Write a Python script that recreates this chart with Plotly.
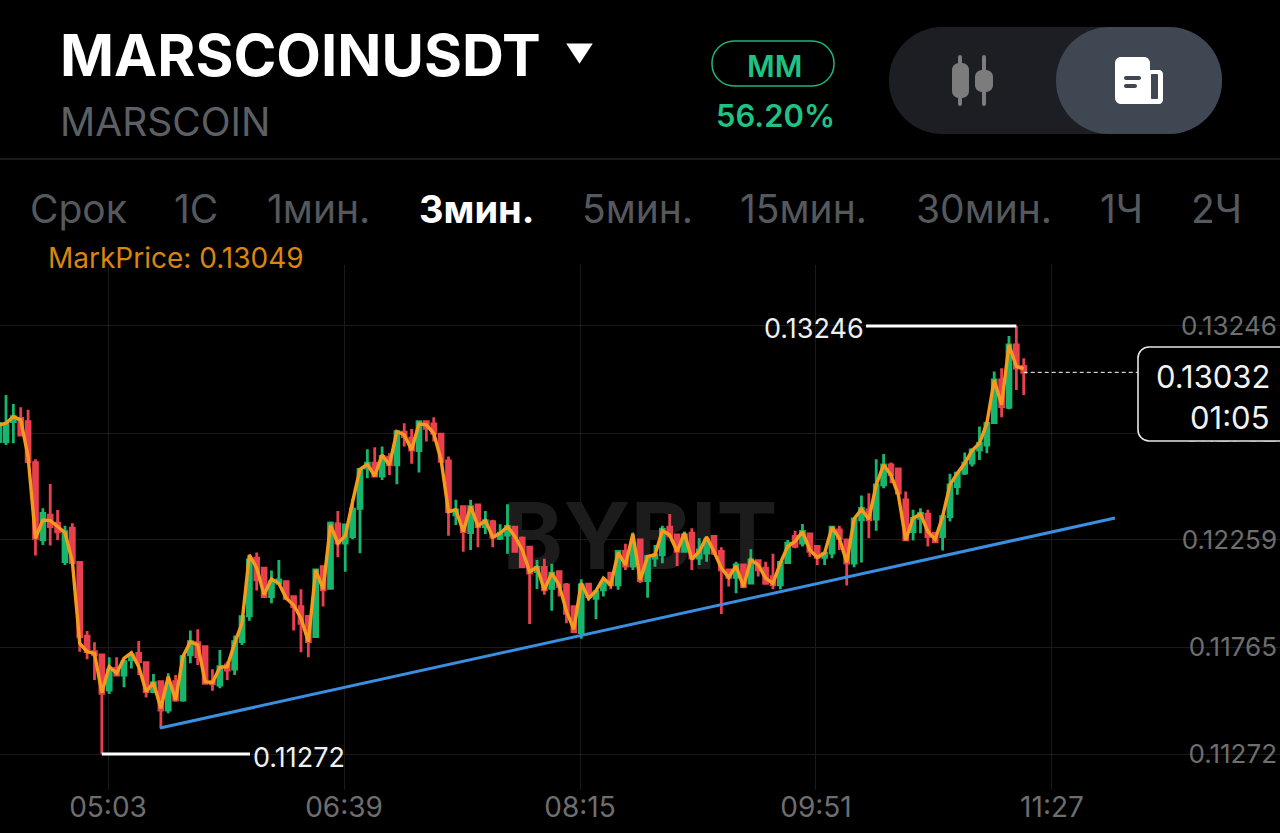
import pandas as pd
import plotly.graph_objects as go

opens = [12713,12713,12805,12820,12805,12616,12259,12374,12336,12159,12313,12155,11816,11744,11729,11567,11667,11636,11706,11736,
         11693,11560,11606,11475,11606,11521,11729,11786,11767,11606,11590,11683,11663,11790,11909,12175,12129,11998,12059,12067,
         11998,11952,11906,11813,12136,12036,12333,12244,12275,12405,12590,12613,12554,12641,12605,12756,12728,12671,12805,12794,
         12747,12624,12375,12413,12293,12421,12321,12344,12267,12282,12318,12267,12226,12113,12133,12036,12113,12052,11952,11832,
         12055,11990,12029,12106,12052,12206,12139,12259,12072,12175,12190,12318,12282,12206,12290,12175,12198,12275,12206,12121,
         12087,12144,12060,12164,12129,12090,12052,12155,12275,12244,12287,12229,12179,12198,12305,12259,12152,12352,12398,12355,
         12513,12605,12587,12444,12298,12359,12378,12290,12275,12367,12505,12567,12613,12674,12697,12800,12997,12871,13159,13059]
highs = [12836,12928,12886,12871,12859,12631,12405,12517,12397,12324,12336,12155,11839,11787,11729,11718,11718,11706,11744,11793,
         11698,11641,11610,11644,11636,11729,11841,11847,11770,11663,11752,11698,11818,11909,12190,12201,12129,12118,12167,12067,
         11998,12032,11906,12124,12136,12344,12393,12328,12448,12590,12677,12687,12690,12659,12764,12797,12771,12805,12810,12825,
         12747,12644,12444,12413,12444,12421,12393,12352,12332,12424,12318,12275,12226,12167,12172,12149,12113,12060,11955,12078,
         12060,12021,12087,12106,12206,12241,12293,12259,12190,12236,12324,12379,12282,12298,12313,12267,12275,12282,12226,12121,
         12159,12149,12216,12164,12159,12195,12159,12259,12301,12333,12287,12229,12198,12321,12325,12259,12359,12464,12475,12631,
         12656,12616,12587,12482,12398,12405,12398,12290,12367,12564,12570,12662,12682,12782,12805,13036,13051,13200,13246,13097]
lows = [12582,12697,12705,12743,12620,12187,12236,12233,12259,12144,12155,11744,11709,11613,11272,11549,11636,11580,11666,11636,
        11532,11552,11390,11460,11513,11513,11690,11683,11598,11564,11575,11613,11636,11775,11887,12026,11998,11967,12059,11983,
        11841,11741,11718,11813,11952,12032,12179,12113,12262,12198,12544,12551,12536,12559,12516,12690,12610,12570,12713,12713,
        12621,12278,12328,12205,12213,12225,12287,12225,12259,12195,12206,12136,11872,12033,12006,11933,11998,11875,11832,11803,
        11980,11893,11998,12032,12029,12121,12121,12060,11993,12136,12152,12278,12139,12201,12121,12144,12159,12190,11918,12044,
        12013,12036,12060,12090,12059,12032,12032,12152,12221,12229,12182,12144,12144,12175,12213,12049,12133,12155,12267,12302,
        12498,12521,12467,12259,12256,12290,12229,12244,12210,12344,12467,12559,12598,12628,12659,12797,12825,12862,12951,12928]
closes = [12797,12797,12828,12743,12620,12267,12382,12321,12297,12297,12155,11813,11744,11729,11552,11659,11636,11698,11729,11698,
          11560,11601,11475,11598,11521,11721,11790,11721,11598,11595,11675,11659,11790,11905,12167,12075,11998,12067,12075,11990,
          11952,11875,11790,12121,12029,12336,12244,12328,12401,12585,12613,12554,12644,12605,12759,12736,12674,12805,12774,12751,
          12621,12390,12398,12298,12413,12321,12348,12272,12290,12321,12206,12136,12106,12133,12029,12106,12044,11921,11837,12052,
          11998,12021,12063,12052,12206,12139,12244,12072,12183,12190,12309,12278,12206,12282,12175,12213,12259,12198,12121,12087,
          12144,12044,12167,12121,12059,12052,12155,12244,12229,12298,12206,12179,12198,12318,12267,12152,12356,12405,12352,12513,
          12605,12559,12475,12259,12359,12382,12275,12252,12367,12513,12567,12613,12674,12705,12797,12997,12874,13159,13051,13032]
mark_line = [12789,12797,12828,12813,12643,12267,12351,12348,12321,12293,12159,11782,11744,11736,11555,11675,11644,11713,11739,11675,
             11560,11601,11483,11629,11521,11721,11790,11775,11606,11601,11672,11675,11782,11875,12190,12130,12006,12079,12059,11990,
             11959,11898,11790,12121,12032,12328,12244,12278,12436,12585,12608,12554,12651,12605,12759,12744,12674,12794,12790,12751,
             12628,12390,12398,12298,12413,12324,12348,12272,12290,12321,12275,12213,12113,12133,12029,12106,12052,11929,11847,12060,
             11990,12024,12083,12052,12201,12144,12287,12075,12183,12190,12302,12282,12206,12290,12170,12206,12272,12206,12129,12087,
             12139,12044,12167,12144,12083,12059,12152,12229,12252,12298,12213,12179,12198,12318,12267,12155,12356,12401,12355,12513,
             12605,12559,12467,12259,12359,12378,12298,12262,12367,12513,12567,12613,12671,12705,12797,12997,12882,13159,13059,13049]
tick_5 = 100000.0
opens = [v / tick_5 for v in opens]
highs = [v / tick_5 for v in highs]
lows = [v / tick_5 for v in lows]
closes = [v / tick_5 for v in closes]
mark_line = [v / tick_5 for v in mark_line]

times = pd.date_range("2024-01-01 04:18:30", periods=len(opens), freq="3min")

day = "2024-01-01 "
x_ticks = [day + "05:03", day + "06:39", day + "08:15", day + "09:51", day + "11:27"]
x_labels = ["05:03", "06:39", "08:15", "09:51", "11:27"]
y_ticks = [0.13246, 0.12752, 0.12259, 0.11765, 0.11272]
y_labels = ["0.13246", "0.12752", "0.12259", "0.11765", "0.11272"]

trend_x = [day + "05:24:09", day + "11:52:39"]
trend_y = [0.11392, 0.12360]
high_x = [day + "10:11:20", day + "11:12:30"]
high_y = [0.13246, 0.13246]
low_x = [day + "05:00:30", day + "06:00:46"]
low_y = [0.11272, 0.11272]
last_x = [day + "11:15:30", day + "12:02:00"]
last_y = [0.13032, 0.13032]

menu = ["Срок", "1С", "1мин.", "3мин.", "5мин.", "15мин.", "30мин.", "1Ч", "2Ч"]
menu_centers = [78, 196, 318, 476, 637, 803, 984, 1121, 1216]

W, H = 1280, 833
GREEN = "#17b66e"
RED = "#e8404f"
ORANGE = "#f59a1c"
BLUE = "#3a8fe0"
GREY = "#6e6e6e"
UI_FONT = "Inter"


def px(x):
    return x / W


def py(y):
    return 1 - y / H


def rrect(x0, y0, x1, y1, r):
    # rounded rectangle in screen pixels, as a paper path
    k = r * 0.45
    pts = [
        ("M", (x0 + r, y0)),
        ("L", (x1 - r, y0)),
        ("C", (x1 - k, y0), (x1, y0 + k), (x1, y0 + r)),
        ("L", (x1, y1 - r)),
        ("C", (x1, y1 - k), (x1 - k, y1), (x1 - r, y1)),
        ("L", (x0 + r, y1)),
        ("C", (x0 + k, y1), (x0, y1 - k), (x0, y1 - r)),
        ("L", (x0, y0 + r)),
        ("C", (x0, y0 + k), (x0 + k, y0), (x0 + r, y0)),
    ]
    out = []
    for p in pts:
        coords = " ".join(f"{px(a):.5f},{py(b):.5f}" for a, b in p[1:])
        out.append(p[0] + coords)
    return " ".join(out) + " Z"


def box(x0, y0, x1, y1, r, fill, line=None, width=0, layer="above"):
    return dict(type="path", xref="paper", yref="paper", path=rrect(x0, y0, x1, y1, r),
                fillcolor=fill, line=dict(color=line or fill, width=width), layer=layer)


def label(text, x, y, size, color, anchor="left", family=UI_FONT, bold=False, weight=None):
    if bold:
        text = "<b>" + text + "</b>"
    font = dict(size=size, color=color, family=family)
    if weight:
        font["weight"] = weight
    return dict(text=text, x=px(x), y=py(y), xref="paper", yref="paper", xanchor=anchor, yanchor="middle",
                showarrow=False, font=font)


fig = go.Figure()

fig.add_trace(go.Candlestick(
    x=times, open=opens, high=highs, low=lows, close=closes,
    increasing=dict(line=dict(color=GREEN, width=2.8), fillcolor=GREEN),
    decreasing=dict(line=dict(color=RED, width=2.8), fillcolor=RED),
    whiskerwidth=0, showlegend=False, hoverinfo="skip"))
fig.add_trace(go.Scatter(x=times, y=mark_line, mode="lines", line=dict(color=ORANGE, width=3.4),
                         showlegend=False, hoverinfo="skip"))
fig.add_trace(go.Scatter(x=trend_x, y=trend_y, mode="lines", line=dict(color=BLUE, width=3),
                         showlegend=False, hoverinfo="skip"))
fig.add_trace(go.Scatter(x=high_x, y=high_y, mode="lines", line=dict(color="white", width=3),
                         showlegend=False, hoverinfo="skip"))
fig.add_trace(go.Scatter(x=low_x, y=low_y, mode="lines", line=dict(color="white", width=3),
                         showlegend=False, hoverinfo="skip"))
fig.add_trace(go.Scatter(x=last_x, y=last_y, mode="lines", line=dict(color="white", width=1, dash="4px,3px"),
                         showlegend=False, hoverinfo="skip"))

shapes = [
    # header divider
    dict(type="line", xref="paper", yref="paper", x0=0, x1=1, y0=py(159), y1=py(159),
         line=dict(color="#222326", width=1.5)),
    # watermark sits under the candles
    dict(type="rect", xref="paper", yref="paper", x0=px(500), x1=px(780), y0=py(580), y1=py(484),
         line=dict(width=0), fillcolor="rgba(0,0,0,0)", layer="below",
         label=dict(text="<b>BYBlT</b>", font=dict(size=92, color="#1c1c1d", family="Inter"),
                    textposition="middle center")),
    # symbol dropdown arrow
    dict(type="path", xref="paper", yref="paper", fillcolor="white", line=dict(color="white", width=3),
         path=f"M{px(569)},{py(45)} L{px(590)},{py(45)} L{px(579.5)},{py(61)} Z"),
    # mode toggle
    box(889, 27, 1222, 134, 53, "#1c1e23"),
    box(1056, 27, 1222, 134, 53, "#3f4752"),
    # candle icon
    box(958, 55, 962, 106, 2, "#7c7c7c"),
    box(952, 63, 969, 98, 7, "#7c7c7c"),
    box(982, 55, 986, 106, 2, "#7c7c7c"),
    box(975, 70, 993, 92, 7, "#7c7c7c"),
    # paper icon
    box(1140, 70, 1163, 104, 4, "white"),
    box(1151, 74, 1158, 99, 1, "#3f4752"),
    box(1115, 57, 1150, 104, 6, "white"),
    box(1124, 76, 1141, 80, 2, "#3f4752"),
    box(1124, 84, 1137, 88, 2, "#3f4752"),
    # margin pill
    box(712, 41, 834, 86, 22, "rgba(0,0,0,0)", line="#1db57c", width=1.5),
    # last price box
    box(1138, 347, 1300, 441, 11, "black", line="#e6e6e6", width=1.6),
]

annotations = [
    label("MARSCOINUSDT", 58, 55, 58, "white", family="Inter", bold=True),
    label("MARSCOIN", 58, 121, 39, "#5c5f63"),
    label("MM", 774, 66, 30, "#1fc283", anchor="center", weight=600),
    label("56.20%", 775, 116, 31, "#1fc283", anchor="center", weight=600),
    label("MarkPrice: 0.13049", 46, 258, 28, "#d9860f"),
    label("0.13246", 866, 328, 27, "#efefef", anchor="right"),
    label("0.11272", 251, 757, 27, "#efefef"),
    label("0.13032", 1272, 376, 31, "#f2f2f2", anchor="right"),
    label("01:05", 1272, 417, 31, "#f2f2f2", anchor="right"),
]
for name, cx in zip(menu, menu_centers):
    active = name == "3мин."
    annotations.append(label(name, cx, 209, 38 if active else 39, "white" if active else "#55585c",
                             anchor="center", bold=active))

fig.update_layout(
    width=W, height=H, autosize=False,
    margin=dict(l=0, r=0, t=0, b=0),
    paper_bgcolor="black", plot_bgcolor="black",
    showlegend=False, boxgap=0.25,
    shapes=shapes, annotations=annotations,
    xaxis=dict(domain=[0, 1], range=[day + "04:19:04", day + "12:59:45"], type="date",
               rangeslider=dict(visible=False), tickmode="array", tickvals=x_ticks, ticktext=x_labels,
               showgrid=True, gridcolor="#1a1a1a", gridwidth=1, zeroline=False, showline=False, ticks="",
               ticklabelstandoff=-2, tickfont=dict(size=28, color=GREY, family=UI_FONT)),
    yaxis=dict(domain=[py(790), py(265)], range=[0.11106, 0.13527], side="right", tickmode="array",
               tickvals=y_ticks, ticktext=y_labels, ticklabelposition="inside",
               showgrid=True, gridcolor="#1a1a1a", gridwidth=1, zeroline=False, showline=False, ticks="",
               tickfont=dict(size=26, color=GREY, family=UI_FONT)),
)

# drop the browser's default page margin so the figure fills the window
fig.write_html("out.html", config=dict(displayModeBar=False),
               post_script="document.body.style.margin='0';document.body.style.overflow='hidden';")
